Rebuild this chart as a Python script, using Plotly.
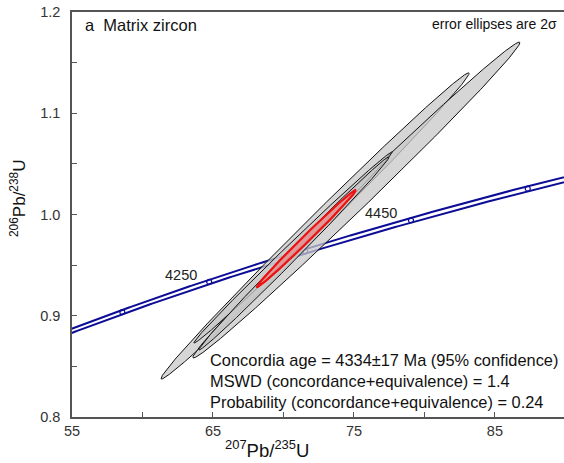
import numpy as np
import plotly.graph_objects as go

# ---- data ----
# decay constants (1/yr)
LAMBDA_238 = 1.55125e-10
LAMBDA_235 = 9.8485e-10
LAMBDA_235_REL_ERR = 0.0017  # envelope half-width (relative)

concordia_ages_ma = np.linspace(4000, 4650, 300)
age_marks_ma = [4150, 4250, 4350, 4450, 4550]
age_labels_ma = [4250, 4450]
age_label_pos_x = [62.7, 76.9]
age_label_pos_y = [0.9405, 1.0015]

# analyses: 207Pb/235U, 2s, 206Pb/238U, 2s, rho
ell_x = [72.24, 75.17, 70.68, 70.74]
ell_xerr = [10.93, 11.60, 7.03, 6.74]
ell_y = [0.9887, 1.0143, 0.9674, 0.9615]
ell_yerr = [0.1512, 0.1560, 0.0943, 0.0953]
ell_rho = [0.9966, 0.9961, 0.9974, 0.9970]

# concordia age ellipse
conc_x, conc_xerr = 71.63, 3.51
conc_y, conc_yerr = 0.9763, 0.0479
conc_rho = 0.995

x_ticks = [55, 65, 75, 85]
y_ticks = [0.8, 0.9, 1.0, 1.1, 1.2]

stats_lines = [
    "Concordia age = 4334\u00b117 Ma (95% confidence)",
    "MSWD (concordance+equivalence) = 1.4",
    "Probability (concordance+equivalence) = 0.24",
]

FONT = "Liberation Sans, Arial, sans-serif"
BLUE = "#0c0c96"


def concordia(t_ma, l235):
    t = np.asarray(t_ma) * 1e6
    return np.exp(l235 * t) - 1, np.exp(LAMBDA_238 * t) - 1


def ellipse(cx, sx, cy, sy, rho, n=400):
    th = np.linspace(0, 2 * np.pi, n)
    x = cx + sx * np.cos(th)
    y = cy + sy * (rho * np.cos(th) + np.sqrt(1 - rho ** 2) * np.sin(th))
    return x, y


fig = go.Figure()

# concordia envelope (two lines)
for f in (1 - LAMBDA_235_REL_ERR, 1 + LAMBDA_235_REL_ERR):
    cx, cy = concordia(concordia_ages_ma, LAMBDA_235 * f)
    fig.add_trace(go.Scatter(x=cx, y=cy, mode="lines",
                             line=dict(color=BLUE, width=2),
                             hoverinfo="skip", showlegend=False))

mx, my = concordia(age_marks_ma, LAMBDA_235)
fig.add_trace(go.Scatter(x=mx, y=my, mode="markers",
                         marker=dict(symbol="circle-open", size=5, color=BLUE,
                                     line=dict(color=BLUE, width=1.2)),
                         hoverinfo="skip", showlegend=False))

# data ellipses
for i in range(len(ell_x)):
    ex, ey = ellipse(ell_x[i], ell_xerr[i], ell_y[i], ell_yerr[i], ell_rho[i])
    fig.add_trace(go.Scatter(x=ex, y=ey, mode="lines", fill="toself",
                             fillcolor="rgba(200,200,200,0.75)",
                             line=dict(color="#111111", width=1),
                             hoverinfo="skip", showlegend=False))

# concordia age ellipse
ex, ey = ellipse(conc_x, conc_xerr, conc_y, conc_yerr, conc_rho)
fig.add_trace(go.Scatter(x=ex, y=ey, mode="lines", fill="toself",
                         fillcolor="rgba(255,90,90,0.45)",
                         line=dict(color="#ee1111", width=2.2),
                         hoverinfo="skip", showlegend=False))

annotations = []
for lab, lx, ly in zip(age_labels_ma, age_label_pos_x, age_label_pos_y):
    annotations.append(dict(x=lx, y=ly, xref="x", yref="y", text=str(lab),
                            showarrow=False, font=dict(size=14.5, color="#222222", family=FONT)))

annotations.append(dict(x=0.022, y=0.995, xref="paper", yref="paper",
                        text="a  Matrix zircon", xanchor="left", yanchor="top",
                        showarrow=False, font=dict(size=16.5, color="#111111", family=FONT)))
annotations.append(dict(x=0.99, y=0.995, xref="paper", yref="paper",
                        text="error ellipses are 2\u03c3", xanchor="right", yanchor="top",
                        showarrow=False, font=dict(size=14, color="#111111", family=FONT)))

plot_h = 417 - 12
plot_w = 564 - 72
for i, line in enumerate(stats_lines):
    ypix = 360 + 21 * i
    annotations.append(dict(x=(208 - 72) / plot_w, y=(417 - ypix) / plot_h,
                            xref="paper", yref="paper", text=line,
                            xanchor="left", yanchor="middle", showarrow=False,
                            font=dict(size=16.4, color="#111111", family=FONT)))

# axis titles
annotations.append(dict(x=(267 - 72) / plot_w, y=(417 - 449) / plot_h, xref="paper", yref="paper",
                        text="<sup>207</sup>Pb/<sup>235</sup>U", showarrow=False,
                        xanchor="center", yanchor="middle",
                        font=dict(size=18.5, color="#111111", family=FONT)))
annotations.append(dict(x=(18 - 72) / plot_w, y=(417 - 198) / plot_h, xref="paper", yref="paper",
                        text="<sup>206</sup>Pb/<sup>238</sup>U", showarrow=False, textangle=-90,
                        xanchor="center", yanchor="middle",
                        font=dict(size=17, color="#111111", family=FONT)))

fig.update_layout(
    width=564, height=463,
    margin=dict(l=72, r=0, t=12, b=46),
    paper_bgcolor="white", plot_bgcolor="white",
    font=dict(family=FONT, color="#333333"),
    annotations=annotations,
    showlegend=False,
)
fig.update_xaxes(range=[55, 89.9], tickvals=x_ticks, ticktext=[str(v) for v in x_ticks],
                 ticks="inside", ticklen=5, tickcolor="#555555", tickwidth=1.2,
                 minor=dict(ticks="inside", tick0=55, dtick=5, ticklen=5, tickcolor="#555555", tickwidth=1.2),
                 showline=True, linecolor="#555555", linewidth=1.6, mirror=True,
                 showgrid=False, zeroline=False,
                 tickfont=dict(size=14.5, color="#333333"))
fig.update_yaxes(range=[0.8, 1.2], tickvals=y_ticks, ticktext=[f"{v:.1f}" for v in y_ticks],
                 ticks="inside", ticklen=5, tickcolor="#555555", tickwidth=1.2,
                 minor=dict(ticks="inside", tick0=0.8, dtick=0.05, ticklen=5, tickcolor="#555555", tickwidth=1.2),
                 showline=True, linecolor="#555555", linewidth=1.6, mirror=False,
                 showgrid=False, zeroline=False, ticklabelstandoff=7,
                 tickfont=dict(size=14.5, color="#333333"))

fig.write_html("out.html")
